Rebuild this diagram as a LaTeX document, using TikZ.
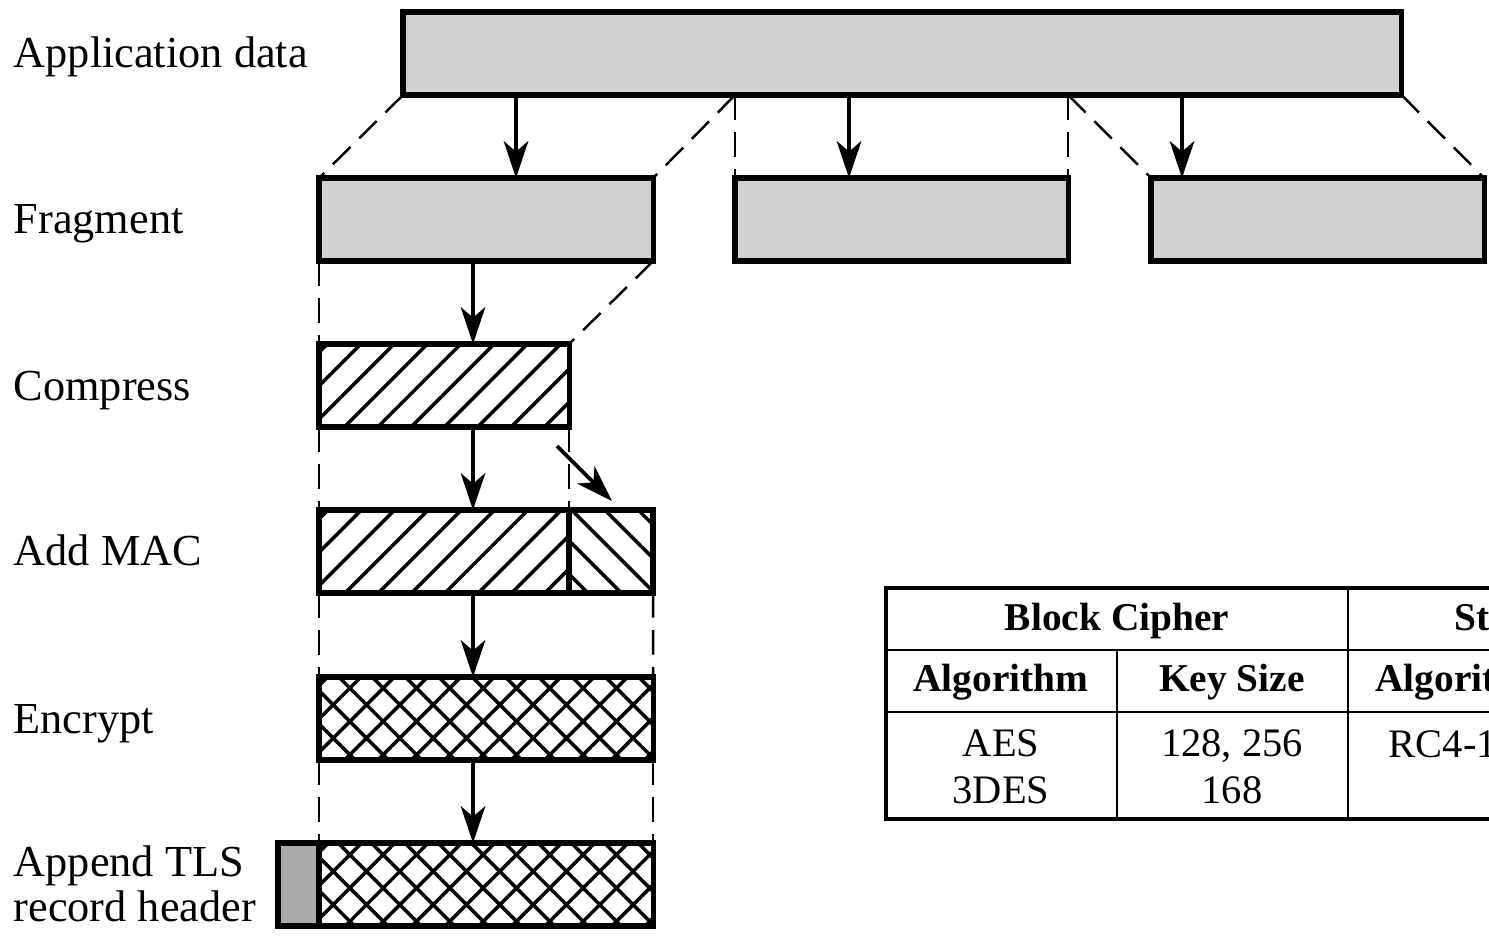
\documentclass[tikz,border=0pt]{standalone}
\usepackage{fontspec}
\setmainfont{Liberation Serif}
\usetikzlibrary{arrows.meta,patterns.meta}

\begin{document}
\begin{tikzpicture}[x=0.01cm,y=-0.01cm,line join=miter,
  blk/.style={draw,line width=1.5pt,inner sep=0pt,outer sep=0pt,anchor=north west,minimum height=0.83cm},
  grey/.style={blk,fill=black!18},
  hatchne/.style={blk,pattern={Lines[angle=45,distance=6.7pt,line width=1pt]}},
  hatchnw/.style={blk,pattern={Lines[angle=-45,distance=6.7pt,line width=1pt]}},
  xhatch/.style={blk,pattern={Hatch[angle=45,distance=6.7pt,line width=1pt]}},
  lbl/.style={anchor=base west,inner sep=0pt,align=left,font=\fontsize{12.6}{12.8}\selectfont},
  arr/.style={line width=1pt,-{Stealth[length=10.5pt,width=7pt,inset=3pt]}},
  dsh/.style={line width=0.7pt,dash pattern=on 7pt off 3.5pt},
  cell/.style={inner sep=0pt,align=center,font=\fontsize{11.5}{13.4}\selectfont},
  head/.style={cell,font=\fontsize{11.2}{13.4}\selectfont\bfseries}]
\useasboundingbox (0,0) rectangle (1489,938);
\clip (0,0) rectangle (1489,938);
% labels
\node[lbl] (lapp) at (13,67) {Application data};
\node[lbl] (lfrag) at (13,233) {Fragment};
\node[lbl] (lcomp) at (13,400) {Compress};
\node[lbl] (lmac) at (13,565) {Add MAC};
\node[lbl] (lenc) at (13,733) {Encrypt};
\node[lbl,anchor=west] (lhdr) at (13,884) {Append TLS\\record header};
% blocks
\node[grey,minimum width=9.98cm] (app) at (403,12) {};
\node[grey,minimum width=3.34cm] (f1) at (319,178) {};
\node[grey,minimum width=3.33cm] (f2) at (735,178) {};
\node[grey,minimum width=3.33cm] (f3) at (1151,178) {};
\node[hatchne,minimum width=2.50cm] (comp) at (319,344) {};
\node[hatchne,minimum width=2.50cm] (macd) at (319,510) {};
\node[hatchnw,minimum width=0.84cm] (mac) at (569,510) {};
\node[xhatch,minimum width=3.34cm] (enc) at (319,677) {};
\node[xhatch,minimum width=3.34cm] (rec) at (319,843) {};
\node[blk,fill=black!33,minimum width=0.41cm] (hdr) at (278,843) {};
% arrows
\coordinate (a1) at (516,0);
\coordinate (a2) at (849,0);
\coordinate (a3) at (1182,0);
\coordinate (a4) at (473,0);
\draw[arr] (app.south -| a1) -- (f1.north -| a1);
\draw[arr] (app.south -| a2) -- (f2.north -| a2);
\draw[arr] (app.south -| a3) -- (f3.north -| a3);
\draw[arr] (f1.south -| a4) -- (comp.north -| a4);
\draw[arr] (comp.south -| a4) -- (macd.north -| a4);
\draw[arr] (macd.south -| a4) -- (enc.north -| a4);
\draw[arr] (enc.south -| a4) -- (rec.north -| a4);
\coordinate (m1) at (557,446);
\coordinate (m2) at (612,501);
\draw[arr,line width=1.1pt] (m1) -- (m2);
% dashed guides
\draw[dsh] (app.south west) -- (f1.north west);
\draw[dsh] (app.south -| f2.north west) -- (f1.north east);
\draw[dsh] (app.south -| f2.north west) -- (f2.north west);
\draw[dsh] (app.south -| f2.north east) -- (f2.north east);
\draw[dsh] (app.south -| f2.north east) -- (f3.north west);
\draw[dsh] (app.south east) -- (f3.north east);
\draw[dsh] (f1.south west) -- (comp.north west);
\draw[dsh] (f1.south east) -- (comp.north east);
\draw[dsh] (comp.south west) -- (macd.north west);
\draw[dsh] (comp.south east) -- (macd.north east);
\draw[dsh] (macd.south west) -- (enc.north west);
\draw[dsh] (mac.south east) -- (enc.north east);
\draw[dsh] (enc.south west) -- (rec.north west);
\draw[dsh] (enc.south east) -- (rec.north east);
% cipher table
\draw[line width=0.9pt] (886,588) rectangle (1810,819);
\draw[line width=0.65pt] (886,650) -- (1810,650) (886,712) -- (1810,712);
\draw[line width=0.65pt] (1117,650) -- (1117,819) (1348,588) -- (1348,819) (1579,650) -- (1579,819);
\node[head] (tblock) at (1117,621) {Block Cipher};
\node[head] (tstream) at (1579,621) {Stream Cipher};
\node[head] (talg1) at (1001,682) {Algorithm};
\node[head] (tkey1) at (1232,682) {Key Size};
\node[head] (talg2) at (1463,682) {Algorithm};
\node[cell] (tbalg) at (1001,767) {AES\\3DES};
\node[cell] (tbkey) at (1232,767) {128, 256\\168};
\node[cell] (tsalg) at (1463,744) {RC4-128};
\end{tikzpicture}
\end{document}
